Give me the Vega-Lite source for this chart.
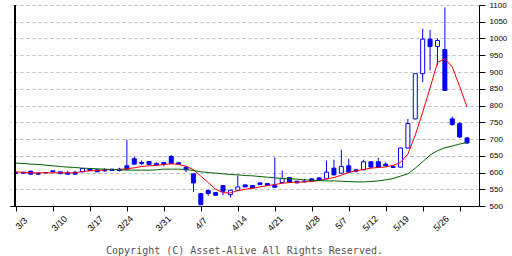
{
  "$schema": "https://vega.github.io/schema/vega-lite/v6.json",
  "width": 469,
  "height": 201,
  "autosize": {"type": "none"},
  "padding": {"left": 10, "top": 5, "right": 33, "bottom": 50},
  "background": "#ffffff",
  "config": {
    "view": {"stroke": null},
    "axisY": {
      "orient": "right",
      "title": null,
      "grid": true,
      "gridColor": "#bbbbbb",
      "gridDash": [3, 3],
      "gridWidth": 1,
      "domainColor": "#000000",
      "domainWidth": 1,
      "tickColor": "#000000",
      "tickSize": 6,
      "tickWidth": 1,
      "labelFont": "Liberation Sans",
      "labelFontSize": 8,
      "labelColor": "#000000",
      "labelPadding": 4,
      "labelOverlap": false,
      "labelFlush": false,
      "labelBound": false
    }
  },
  "title": {
    "text": "Copyright (C) Asset-Alive All Rights Reserved.",
    "orient": "bottom",
    "anchor": "middle",
    "font": "DejaVu Sans Mono",
    "fontSize": 10,
    "fontWeight": "normal",
    "color": "#555555",
    "offset": 13
  },
  "data": {
    "values": [
      {"i": 0, "o": 599, "h": 600, "l": 597, "c": 598, "ma5": 602, "ma25": 628},
      {"i": 1, "o": 601, "h": 602, "l": 597, "c": 598, "ma5": 600, "ma25": 627},
      {"i": 2, "o": 604, "h": 605, "l": 594, "c": 595, "ma5": 599, "ma25": 625},
      {"i": 3, "o": 598, "h": 598, "l": 594, "c": 595, "ma5": 599, "ma25": 624},
      {"i": 4, "o": 600, "h": 601, "l": 598, "c": 599, "ma5": 599, "ma25": 622},
      {"i": 5, "o": 605, "h": 605, "l": 601, "c": 602, "ma5": 599, "ma25": 620},
      {"i": 6, "o": 602, "h": 602, "l": 594, "c": 597, "ma5": 599, "ma25": 618},
      {"i": 7, "o": 599, "h": 605, "l": 594, "c": 595, "ma5": 599, "ma25": 616},
      {"i": 8, "o": 601, "h": 605, "l": 594, "c": 595, "ma5": 599, "ma25": 615},
      {"i": 9, "o": 602, "h": 613, "l": 601, "c": 612, "ma5": 603, "ma25": 613},
      {"i": 10, "o": 611, "h": 612, "l": 604, "c": 606, "ma5": 605, "ma25": 612},
      {"i": 11, "o": 608, "h": 608, "l": 602, "c": 602, "ma5": 606, "ma25": 611},
      {"i": 12, "o": 607, "h": 613, "l": 602, "c": 605, "ma5": 608, "ma25": 610},
      {"i": 13, "o": 610, "h": 610, "l": 605, "c": 606, "ma5": 609, "ma25": 609},
      {"i": 14, "o": 610, "h": 614, "l": 603, "c": 606, "ma5": 609, "ma25": 608},
      {"i": 15, "o": 620, "h": 698, "l": 609, "c": 610, "ma5": 611, "ma25": 607},
      {"i": 16, "o": 641, "h": 648, "l": 623, "c": 625, "ma5": 614, "ma25": 607},
      {"i": 17, "o": 630, "h": 636, "l": 622, "c": 627, "ma5": 618, "ma25": 607},
      {"i": 18, "o": 633, "h": 633, "l": 623, "c": 624, "ma5": 620, "ma25": 607},
      {"i": 19, "o": 627, "h": 630, "l": 622, "c": 623, "ma5": 621, "ma25": 608},
      {"i": 20, "o": 630, "h": 631, "l": 619, "c": 624, "ma5": 624, "ma25": 610},
      {"i": 21, "o": 648, "h": 652, "l": 626, "c": 627, "ma5": 626, "ma25": 610},
      {"i": 22, "o": 629, "h": 630, "l": 624, "c": 625, "ma5": 624, "ma25": 610},
      {"i": 23, "o": 616, "h": 617, "l": 601, "c": 608, "ma5": 619, "ma25": 609},
      {"i": 24, "o": 596, "h": 596, "l": 542, "c": 569, "ma5": 608, "ma25": 606},
      {"i": 25, "o": 537, "h": 537, "l": 503, "c": 504, "ma5": 589, "ma25": 602},
      {"i": 26, "o": 546, "h": 549, "l": 531, "c": 537, "ma5": 570, "ma25": 600},
      {"i": 27, "o": 540, "h": 541, "l": 530, "c": 532, "ma5": 550, "ma25": 598},
      {"i": 28, "o": 561, "h": 562, "l": 532, "c": 544, "ma5": 540, "ma25": 596},
      {"i": 29, "o": 534, "h": 548, "l": 525, "c": 547, "ma5": 539, "ma25": 594},
      {"i": 30, "o": 547, "h": 591, "l": 545, "c": 557, "ma5": 546, "ma25": 593},
      {"i": 31, "o": 563, "h": 564, "l": 556, "c": 557, "ma5": 550, "ma25": 591},
      {"i": 32, "o": 561, "h": 562, "l": 553, "c": 554, "ma5": 553, "ma25": 590},
      {"i": 33, "o": 569, "h": 570, "l": 563, "c": 564, "ma5": 557, "ma25": 588},
      {"i": 34, "o": 567, "h": 568, "l": 561, "c": 562, "ma5": 561, "ma25": 586},
      {"i": 35, "o": 562, "h": 645, "l": 555, "c": 556, "ma5": 564, "ma25": 584},
      {"i": 36, "o": 570, "h": 606, "l": 567, "c": 582, "ma5": 568, "ma25": 582},
      {"i": 37, "o": 585, "h": 586, "l": 569, "c": 570, "ma5": 570, "ma25": 581},
      {"i": 38, "o": 574, "h": 575, "l": 568, "c": 569, "ma5": 571, "ma25": 580},
      {"i": 39, "o": 574, "h": 580, "l": 571, "c": 572, "ma5": 572, "ma25": 578},
      {"i": 40, "o": 581, "h": 582, "l": 573, "c": 574, "ma5": 573, "ma25": 577},
      {"i": 41, "o": 584, "h": 585, "l": 576, "c": 577, "ma5": 576, "ma25": 576},
      {"i": 42, "o": 581, "h": 636, "l": 580, "c": 601, "ma5": 581, "ma25": 575},
      {"i": 43, "o": 613, "h": 638, "l": 591, "c": 593, "ma5": 585, "ma25": 575},
      {"i": 44, "o": 598, "h": 668, "l": 597, "c": 618, "ma5": 592, "ma25": 574},
      {"i": 45, "o": 620, "h": 641, "l": 600, "c": 601, "ma5": 600, "ma25": 573},
      {"i": 46, "o": 608, "h": 610, "l": 600, "c": 604, "ma5": 605, "ma25": 572},
      {"i": 47, "o": 608, "h": 638, "l": 607, "c": 632, "ma5": 609, "ma25": 572},
      {"i": 48, "o": 632, "h": 633, "l": 614, "c": 616, "ma5": 613, "ma25": 573},
      {"i": 49, "o": 632, "h": 644, "l": 614, "c": 616, "ma5": 615, "ma25": 575},
      {"i": 50, "o": 625, "h": 630, "l": 619, "c": 620, "ma5": 617, "ma25": 578},
      {"i": 51, "o": 618, "h": 620, "l": 614, "c": 615, "ma5": 621, "ma25": 582},
      {"i": 52, "o": 616, "h": 674, "l": 615, "c": 673, "ma5": 630, "ma25": 589},
      {"i": 53, "o": 673, "h": 760, "l": 672, "c": 746, "ma5": 655, "ma25": 596},
      {"i": 54, "o": 760, "h": 896, "l": 758, "c": 895, "ma5": 712, "ma25": 613},
      {"i": 55, "o": 895, "h": 1029, "l": 870, "c": 998, "ma5": 780, "ma25": 632},
      {"i": 56, "o": 998, "h": 1026, "l": 905, "c": 976, "ma5": 852, "ma25": 652},
      {"i": 57, "o": 976, "h": 1000, "l": 920, "c": 994, "ma5": 928, "ma25": 665},
      {"i": 58, "o": 967, "h": 1093, "l": 845, "c": 845, "ma5": 940, "ma25": 674},
      {"i": 59, "o": 760, "h": 767, "l": 740, "c": 743, "ma5": 915, "ma25": 679},
      {"i": 60, "o": 746, "h": 750, "l": 703, "c": 706, "ma5": 857, "ma25": 685},
      {"i": 61, "o": 703, "h": 706, "l": 686, "c": 688, "ma5": 795, "ma25": 689}
    ]
  },
  "encoding": {
    "x": {
      "field": "i",
      "type": "quantitative",
      "scale": {"domain": [-0.13, 61.94], "nice": false, "zero": false},
      "axis": {
        "orient": "bottom",
        "title": null,
        "grid": false,
        "values": [0, 5, 10, 15, 20, 25, 30, 35, 40, 45, 50, 55, 60],
        "labelExpr": "['3/3','3/10','3/17','3/24','3/31','4/7','4/14','4/21','4/28','5/7','5/12','5/19','5/26'][round(datum.value/5)]",
        "labelOffset": {"expr": "[5,6,5,-2,-1,0,1,0,0,-8,-16,-22,-19][round(datum.value/5)]"},
        "labelAngle": -45,
        "labelAlign": "center",
        "labelBaseline": "middle",
        "labelPadding": 12,
        "labelFont": "Liberation Sans",
        "labelFontSize": 9,
        "labelColor": "#000000",
        "labelOverlap": false,
        "labelFlush": false,
        "labelBound": false,
        "domainColor": "#000000",
        "domainWidth": 1,
        "tickColor": "#000000",
        "tickSize": 5,
        "tickWidth": 1
      }
    }
  },
  "layer": [
    {
      "mark": {"type": "rule", "color": "#0000ff", "strokeWidth": 1},
      "encoding": {
        "y": {
          "field": "l",
          "type": "quantitative",
          "scale": {"domain": [500, 1100], "nice": false, "zero": false},
          "axis": {"values": [500, 550, 600, 650, 700, 750, 800, 850, 900, 950, 1000, 1050, 1100], "format": "d"}
        },
        "y2": {"field": "h"}
      }
    },
    {
      "mark": {"type": "bar", "size": 4, "stroke": "#0000ff", "strokeWidth": 1},
      "encoding": {
        "y": {
          "field": "o",
          "type": "quantitative",
          "axis": {"values": [500, 550, 600, 650, 700, 750, 800, 850, 900, 950, 1000, 1050, 1100], "format": "d"}
        },
        "y2": {"field": "c"},
        "fill": {
          "condition": {"test": "datum.o > datum.c", "value": "#0000ff"},
          "value": "#ffffff"
        }
      }
    },
    {
      "mark": {"type": "line", "color": "#ff0000", "strokeWidth": 1},
      "encoding": {
        "y": {
          "field": "ma5",
          "type": "quantitative",
          "axis": {"values": [500, 550, 600, 650, 700, 750, 800, 850, 900, 950, 1000, 1050, 1100], "format": "d"}
        }
      }
    },
    {
      "mark": {"type": "line", "color": "#006400", "strokeWidth": 1},
      "encoding": {
        "y": {
          "field": "ma25",
          "type": "quantitative",
          "axis": {"values": [500, 550, 600, 650, 700, 750, 800, 850, 900, 950, 1000, 1050, 1100], "format": "d"}
        }
      }
    },
    {
      "mark": {"type": "rule", "color": "#000000", "strokeWidth": 1},
      "encoding": {"x": {"datum": -0.13}}
    }
  ]
}
